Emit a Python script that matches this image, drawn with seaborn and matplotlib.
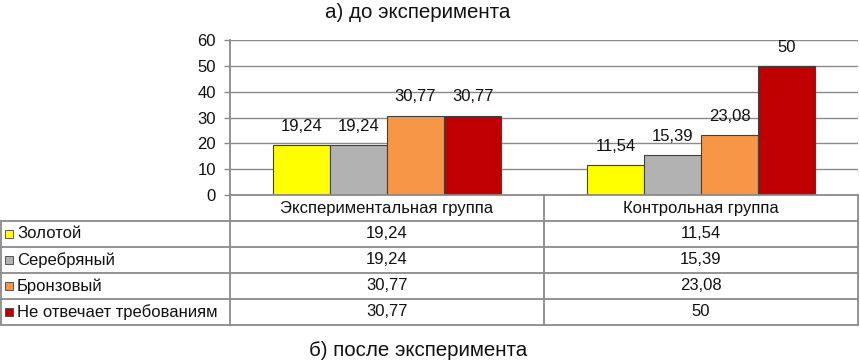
import matplotlib
matplotlib.use("Agg")
import numpy as np
import pandas as pd
import matplotlib.pyplot as plt
import seaborn as sns
from matplotlib.lines import Line2D
from matplotlib.patches import Rectangle

# chart data
groups = ["Экспериментальная группа", "Контрольная группа"]
levels = ["Золотой", "Серебряный", "Бронзовый", "Не отвечает требованиям"]
exp_values = [19.24, 19.24, 30.77, 30.77]
ctrl_values = [11.54, 15.39, 23.08, 50]
level_colors = ["#FFFF00", "#B2B2B2", "#F79646", "#C00000"]
y_ticks = [0, 10, 20, 30, 40, 50, 60]
title_top = "а) до эксперимента"
title_bottom = "б) после эксперимента"

df = pd.DataFrame({
    "group": [groups[0]] * len(levels) + [groups[1]] * len(levels),
    "level": levels * 2,
    "value": exp_values + ctrl_values,
})


def fmt(v):
    return f"{v:g}".replace(".", ",")


sns.set_theme(style="white")
plt.rcParams["font.family"] = ["Liberation Sans", "DejaVu Sans"]

W, H = 860, 362
fig = plt.figure(figsize=(W / 100, H / 100), dpi=100)


def fx(px):
    return px / W


def fy(py):
    return 1 - py / H


# plot area in pixels
left, right, top, bottom = 230, 858, 40, 195
row_h = 26
line_col = "#8a8a8a"
edge_col = "#404040"
txt_col = "#111111"
fs = 12

ax = fig.add_axes([fx(left), fy(bottom), (right - left) / W, (bottom - top) / H])
sns.barplot(data=df, x="group", y="value", hue="level", order=groups,
            hue_order=levels, palette=level_colors, saturation=1,
            width=0.727, gap=0, edgecolor=edge_col, linewidth=0.8,
            errorbar=None, legend=False, ax=ax, zorder=3)

for cont in ax.containers:
    ax.bar_label(cont, labels=[fmt(v) for v in cont.datavalues],
                 padding=8, fontsize=fs, color=txt_col)

ax.set_xlim(-0.5, len(groups) - 0.5)
ax.set_ylim(y_ticks[0], y_ticks[-1])
ax.set_yticks(y_ticks)
ax.set_xticks([])
ax.set_xlabel("")
ax.set_ylabel("")
ax.yaxis.grid(True, color=line_col, linewidth=1.0)
ax.set_axisbelow(True)
for s in ["top", "right", "bottom"]:
    ax.spines[s].set_visible(False)
ax.spines["left"].set_color(line_col)
ax.spines["left"].set_linewidth(1.3)
ax.tick_params(axis="y", left=True, length=4, width=1, color=line_col,
               pad=6, labelsize=fs, labelcolor=txt_col)

# data table under the chart
n_rows = len(levels)
tab_bottom = bottom + row_h * (n_rows + 1)
col_w = (right - left) / len(groups)


def hline(y, x0, x1):
    fig.add_artist(Line2D([fx(x0), fx(x1)], [fy(y), fy(y)], color=line_col,
                          linewidth=1.3, transform=fig.transFigure))


def vline(x, y0, y1):
    fig.add_artist(Line2D([fx(x), fx(x)], [fy(y0), fy(y1)], color=line_col,
                          linewidth=1.3, transform=fig.transFigure))


hline(bottom, left, right)
for k in range(1, n_rows + 2):
    hline(bottom + row_h * k, 0.5, right)
vline(left, bottom, tab_bottom)
vline(0.8, bottom + row_h, tab_bottom)
for j in range(1, len(groups) + 1):
    vline(left + col_w * j, bottom, tab_bottom)

for j, g in enumerate(groups):
    fig.text(fx(left + col_w * (j + 0.5)), fy(bottom + row_h / 2), g,
             ha="center", va="center", fontsize=fs, color=txt_col)

table_vals = [exp_values, ctrl_values]
for i, lev in enumerate(levels):
    yc = bottom + row_h * (i + 1.5)
    fig.add_artist(Rectangle((fx(5), fy(yc + 4)), 8 / W, 8 / H,
                             facecolor=level_colors[i], edgecolor=edge_col,
                             linewidth=0.6, transform=fig.transFigure))
    fig.text(fx(17), fy(yc), lev, ha="left", va="center", fontsize=fs,
             color=txt_col)
    for j in range(len(groups)):
        fig.text(fx(left + col_w * (j + 0.5)), fy(yc), fmt(table_vals[j][i]),
                 ha="center", va="center", fontsize=fs, color=txt_col)

fig.text(fx(418), fy(12), title_top, ha="center", va="center", fontsize=14.8,
         color=txt_col)
fig.text(fx(418), fy(350), title_bottom, ha="center", va="center",
         fontsize=14.8, color=txt_col)

fig.savefig("out.png", dpi=100)
